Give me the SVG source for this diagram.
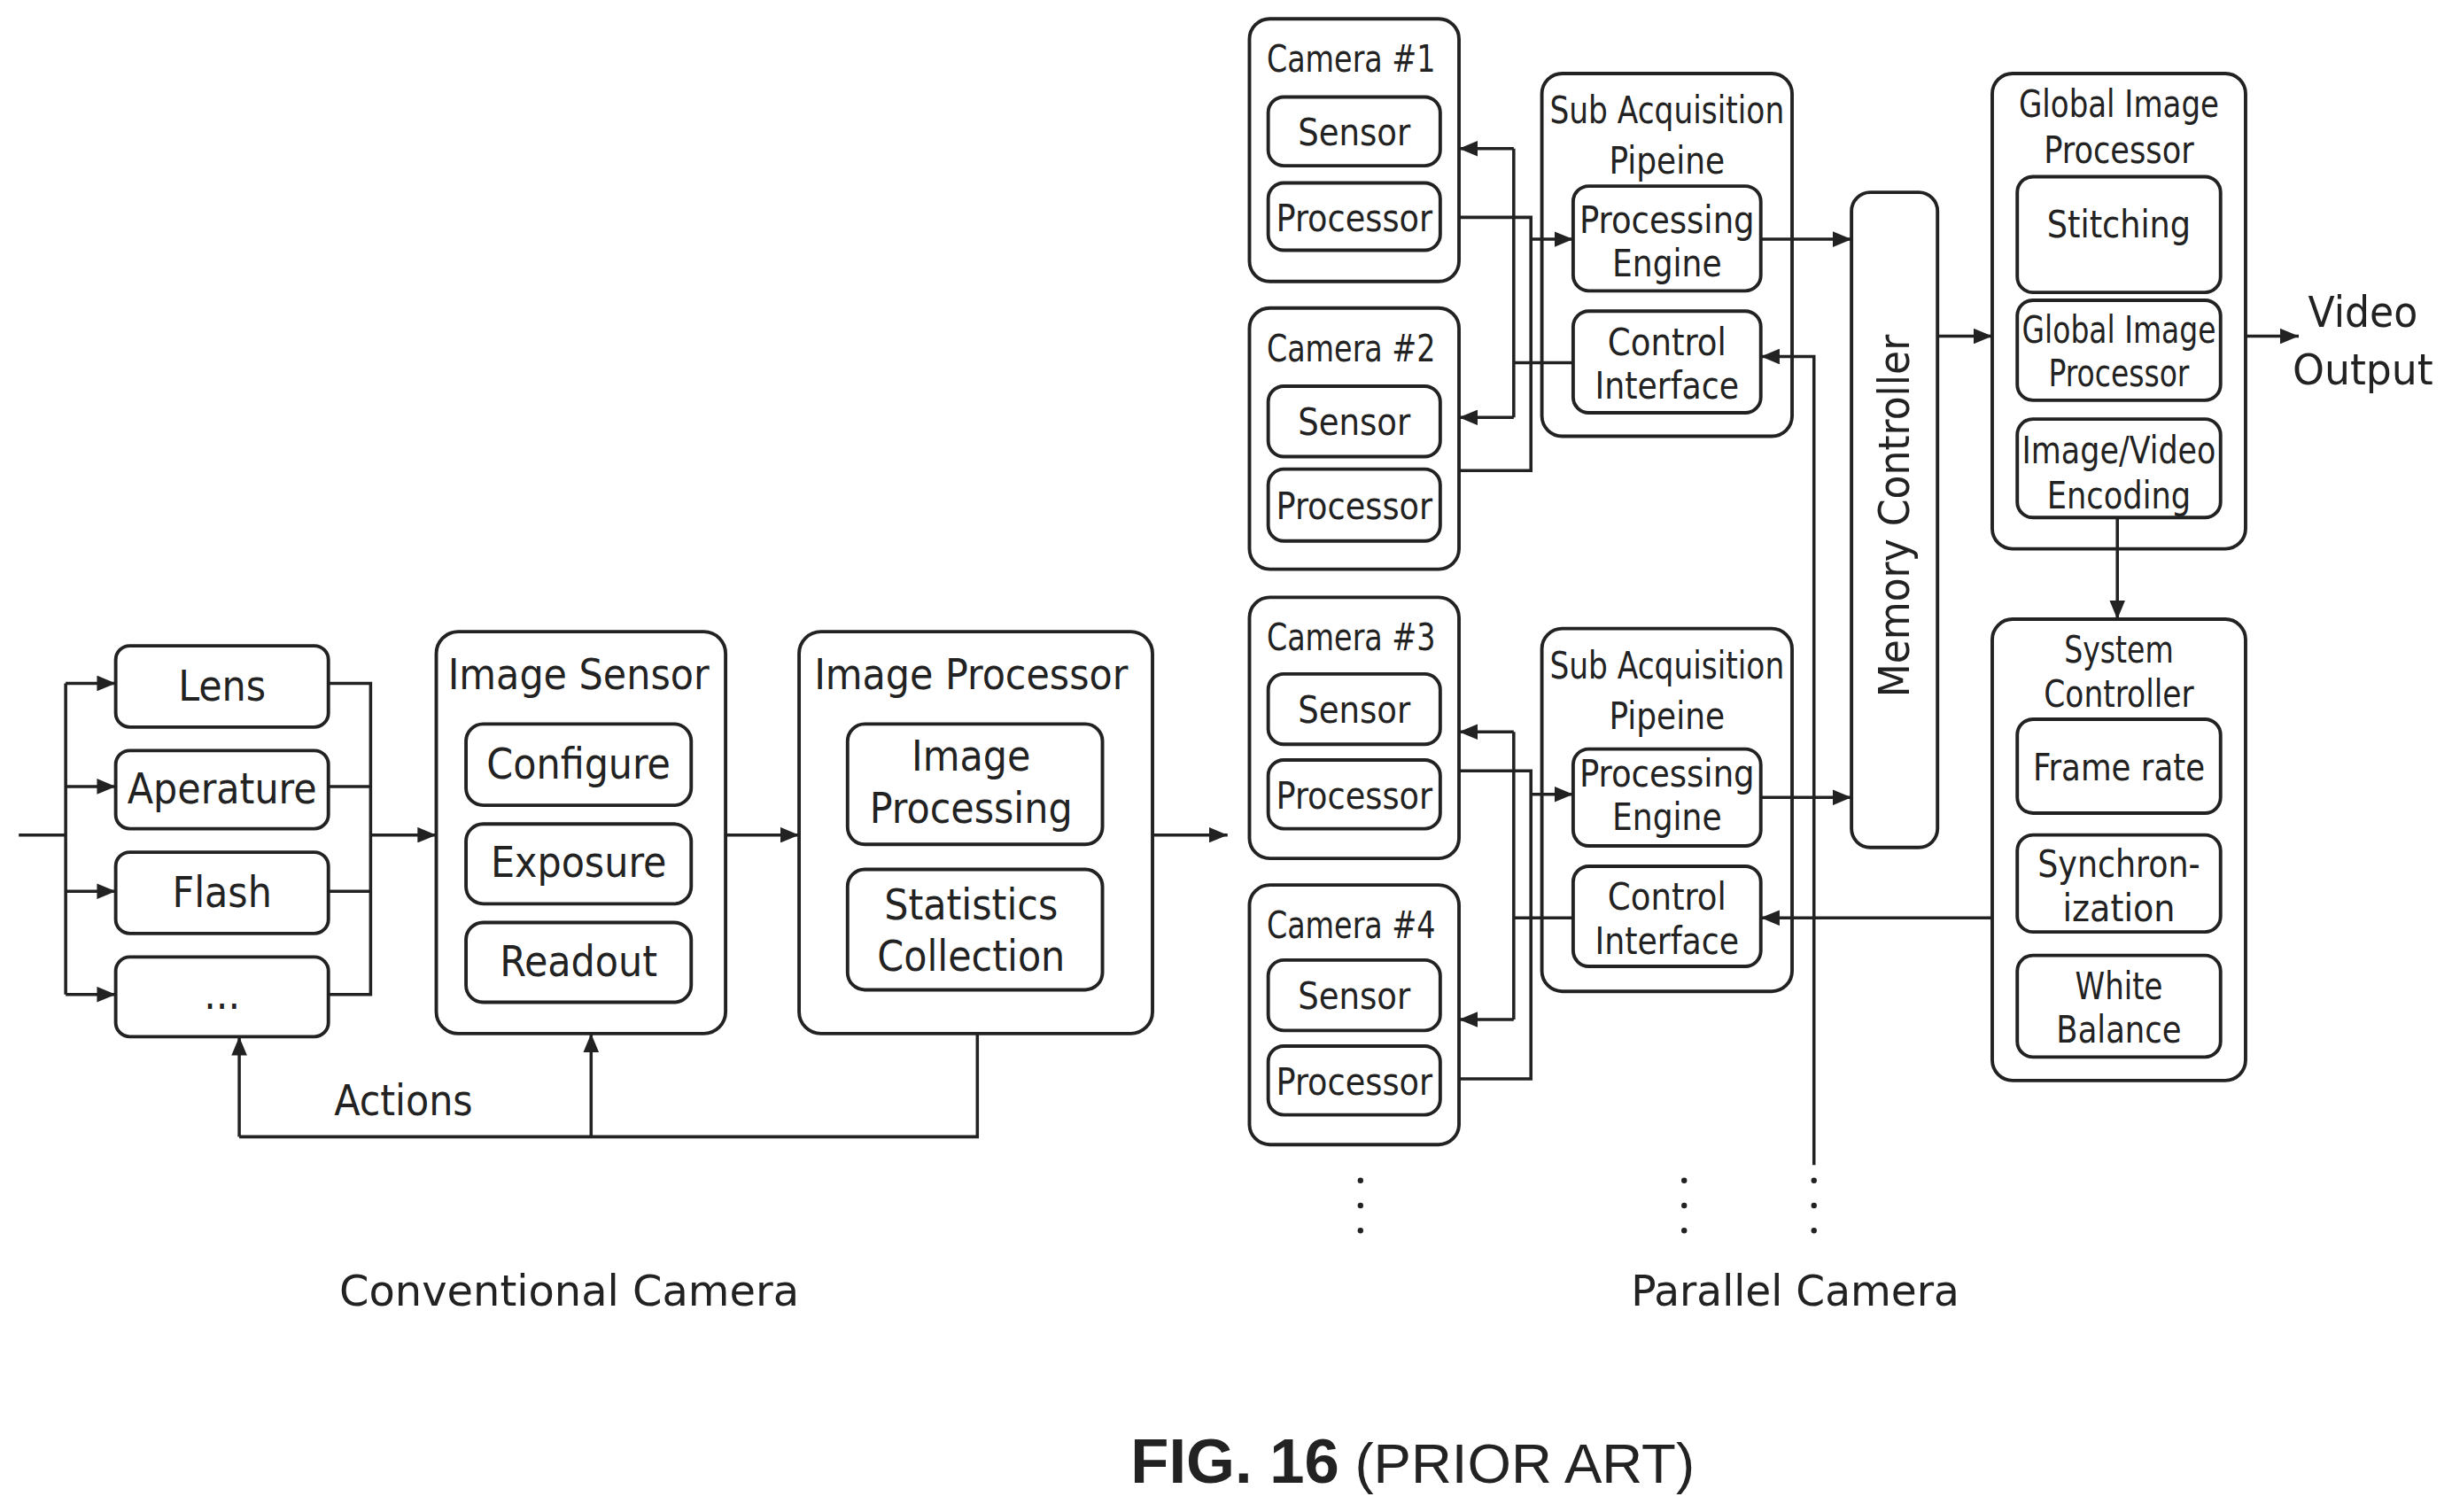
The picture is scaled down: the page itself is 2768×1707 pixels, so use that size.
<svg xmlns="http://www.w3.org/2000/svg" width="2768" height="1707" viewBox="0 0 2768 1707">
<style>
.b{fill:none;stroke:#222;stroke-width:2.2}
.l{fill:none;stroke:#222;stroke-width:2}
.t{font-family:"DejaVu Sans Condensed","DejaVu Sans",sans-serif;font-size:27px;fill:#222;text-anchor:middle}
.s{font-size:24px}
</style>
<defs>
<marker id="a" viewBox="0 0 12 10" refX="12" refY="5" markerWidth="12" markerHeight="10" markerUnits="userSpaceOnUse" orient="auto"><path d="M0,0L12,5L0,10z" fill="#222"/></marker>
</defs>
<rect width="2768" height="1707" fill="#fff"/>
<g transform="scale(1.7653)">
<g id="lens"><rect class="b" x="74" y="413" width="136" height="52" rx="9"/><text class="t" x="142" y="448">Lens</text></g>
<g id="aperature"><rect class="b" x="74" y="480" width="136" height="50" rx="9"/><text class="t" x="142" y="514">Aperature</text></g>
<g id="flash"><rect class="b" x="74" y="545" width="136" height="52" rx="9"/><text class="t" x="142" y="580">Flash</text></g>
<g id="more"><rect class="b" x="74" y="612" width="136" height="51" rx="9"/><text class="t" x="142" y="645">...</text></g>
<g id="imagesensor"><rect class="b" x="279" y="404" width="185" height="257" rx="14"/><text class="t" x="370" y="441">Image Sensor</text>
<rect class="b" x="298" y="463" width="144" height="52" rx="11"/><text class="t" x="370" y="498">Configure</text>
<rect class="b" x="298" y="527" width="144" height="51" rx="11"/><text class="t" x="370" y="561">Exposure</text>
<rect class="b" x="298" y="590" width="144" height="51" rx="11"/><text class="t" x="370" y="624">Readout</text></g>
<g id="imageprocessor"><rect class="b" x="511" y="404" width="226" height="257" rx="14"/><text class="t" x="621" y="441">Image Processor</text>
<rect class="b" x="542" y="463" width="163" height="77" rx="11"/><text class="t" x="621" y="493">Image</text><text class="t" x="621" y="526">Processing</text>
<rect class="b" x="542" y="556" width="163" height="77" rx="11"/><text class="t" x="621" y="588">Statistics</text><text class="t" x="621" y="621">Collection</text></g>
<g id="cam1"><rect class="b" x="799" y="12" width="134" height="168" rx="13"/><text class="t s" x="864" y="46" textLength="108" lengthAdjust="spacingAndGlyphs">Camera #1</text>
<rect class="b" x="811" y="62" width="110" height="44" rx="10"/><text class="t s" x="866" y="93" textLength="72" lengthAdjust="spacingAndGlyphs">Sensor</text>
<rect class="b" x="811" y="117" width="110" height="43" rx="10"/><text class="t s" x="866" y="148" textLength="100" lengthAdjust="spacingAndGlyphs">Processor</text></g>
<g id="cam2"><rect class="b" x="799" y="197" width="134" height="167" rx="13"/><text class="t s" x="864" y="231" textLength="108" lengthAdjust="spacingAndGlyphs">Camera #2</text>
<rect class="b" x="811" y="247" width="110" height="45" rx="10"/><text class="t s" x="866" y="278" textLength="72" lengthAdjust="spacingAndGlyphs">Sensor</text>
<rect class="b" x="811" y="300" width="110" height="46" rx="10"/><text class="t s" x="866" y="332" textLength="100" lengthAdjust="spacingAndGlyphs">Processor</text></g>
<g id="cam3"><rect class="b" x="799" y="382" width="134" height="167" rx="13"/><text class="t s" x="864" y="416" textLength="108" lengthAdjust="spacingAndGlyphs">Camera #3</text>
<rect class="b" x="811" y="431" width="110" height="45" rx="10"/><text class="t s" x="866" y="462" textLength="72" lengthAdjust="spacingAndGlyphs">Sensor</text>
<rect class="b" x="811" y="486" width="110" height="44" rx="10"/><text class="t s" x="866" y="517" textLength="100" lengthAdjust="spacingAndGlyphs">Processor</text></g>
<g id="cam4"><rect class="b" x="799" y="566" width="134" height="166" rx="13"/><text class="t s" x="864" y="600" textLength="108" lengthAdjust="spacingAndGlyphs">Camera #4</text>
<rect class="b" x="811" y="614" width="110" height="45" rx="10"/><text class="t s" x="866" y="645" textLength="72" lengthAdjust="spacingAndGlyphs">Sensor</text>
<rect class="b" x="811" y="669" width="110" height="44" rx="10"/><text class="t s" x="866" y="700" textLength="100" lengthAdjust="spacingAndGlyphs">Processor</text></g>
<g id="sap1"><rect class="b" x="986" y="47" width="160" height="232" rx="13"/><text class="t s" x="1066" y="79" textLength="150" lengthAdjust="spacingAndGlyphs">Sub Acquisition</text><text class="t s" x="1066" y="111" textLength="74" lengthAdjust="spacingAndGlyphs">Pipeine</text>
<rect class="b" x="1006" y="119" width="120" height="67" rx="10"/><text class="t s" x="1066" y="149" textLength="112" lengthAdjust="spacingAndGlyphs">Processing</text><text class="t s" x="1066" y="177" textLength="70" lengthAdjust="spacingAndGlyphs">Engine</text>
<rect class="b" x="1006" y="199" width="120" height="65" rx="10"/><text class="t s" x="1066" y="227" textLength="76" lengthAdjust="spacingAndGlyphs">Control</text><text class="t s" x="1066" y="255" textLength="92" lengthAdjust="spacingAndGlyphs">Interface</text></g>
<g id="sap2"><rect class="b" x="986" y="402" width="160" height="232" rx="13"/><text class="t s" x="1066" y="434" textLength="150" lengthAdjust="spacingAndGlyphs">Sub Acquisition</text><text class="t s" x="1066" y="466" textLength="74" lengthAdjust="spacingAndGlyphs">Pipeine</text>
<rect class="b" x="1006" y="479" width="120" height="62" rx="10"/><text class="t s" x="1066" y="503" textLength="112" lengthAdjust="spacingAndGlyphs">Processing</text><text class="t s" x="1066" y="531" textLength="70" lengthAdjust="spacingAndGlyphs">Engine</text>
<rect class="b" x="1006" y="554" width="120" height="64" rx="10"/><text class="t s" x="1066" y="582" textLength="76" lengthAdjust="spacingAndGlyphs">Control</text><text class="t s" x="1066" y="610" textLength="92" lengthAdjust="spacingAndGlyphs">Interface</text></g>
<g id="memory"><rect class="b" x="1184" y="123" width="55" height="419" rx="12"/><text class="t" transform="translate(1221,330) rotate(-90)" x="0" y="0" textLength="232" lengthAdjust="spacingAndGlyphs">Memory Controller</text></g>
<g id="gip"><rect class="b" x="1274" y="47" width="162" height="304" rx="13"/><text class="t s" x="1355" y="75" textLength="128" lengthAdjust="spacingAndGlyphs">Global Image</text><text class="t s" x="1355" y="104" textLength="96" lengthAdjust="spacingAndGlyphs">Processor</text>
<rect class="b" x="1290" y="113" width="130" height="74" rx="10"/><text class="t s" x="1355" y="152" textLength="92" lengthAdjust="spacingAndGlyphs">Stitching</text>
<rect class="b" x="1290" y="192" width="130" height="64" rx="10"/><text class="t s" x="1355" y="219" textLength="124" lengthAdjust="spacingAndGlyphs">Global Image</text><text class="t s" x="1355" y="247" textLength="90" lengthAdjust="spacingAndGlyphs">Processor</text>
<rect class="b" x="1290" y="268" width="130" height="63" rx="10"/><text class="t s" x="1355" y="296" textLength="124" lengthAdjust="spacingAndGlyphs">Image/Video</text><text class="t s" x="1355" y="325" textLength="92" lengthAdjust="spacingAndGlyphs">Encoding</text></g>
<g id="sysctrl"><rect class="b" x="1274" y="396" width="162" height="295" rx="13"/><text class="t s" x="1355" y="424" textLength="70" lengthAdjust="spacingAndGlyphs">System</text><text class="t s" x="1355" y="452" textLength="96" lengthAdjust="spacingAndGlyphs">Controller</text>
<rect class="b" x="1290" y="460" width="130" height="60" rx="10"/><text class="t s" x="1355" y="499" textLength="110" lengthAdjust="spacingAndGlyphs">Frame rate</text>
<rect class="b" x="1290" y="534" width="130" height="62" rx="10"/><text class="t s" x="1355" y="561" textLength="104" lengthAdjust="spacingAndGlyphs">Synchron-</text><text class="t s" x="1355" y="589" textLength="72" lengthAdjust="spacingAndGlyphs">ization</text>
<rect class="b" x="1290" y="611" width="130" height="65" rx="10"/><text class="t s" x="1355" y="639" textLength="56" lengthAdjust="spacingAndGlyphs">White</text><text class="t s" x="1355" y="667" textLength="80" lengthAdjust="spacingAndGlyphs">Balance</text></g>
<g id="connectors">
<path class="l" d="M12,534H42M42,437V636"/>
<path class="l" marker-end="url(#a)" d="M42,437H74"/><path class="l" marker-end="url(#a)" d="M42,503H74"/><path class="l" marker-end="url(#a)" d="M42,570H74"/><path class="l" marker-end="url(#a)" d="M42,636H74"/>
<path class="l" d="M210,437H237V636H210M210,503H237M210,570H237"/>
<path class="l" marker-end="url(#a)" d="M237,534H279"/>
<path class="l" marker-end="url(#a)" d="M464,534H511"/>
<path class="l" marker-end="url(#a)" d="M737,534H785"/>
<path class="l" d="M625,661V727H153"/>
<path class="l" marker-end="url(#a)" d="M153,727V663"/>
<path class="l" marker-end="url(#a)" d="M378,727V661"/>
<path class="l" d="M933,139H979V301H933"/>
<path class="l" marker-end="url(#a)" d="M979,153H1006"/>
<path class="l" d="M1006,232H968M968,95V267"/>
<path class="l" marker-end="url(#a)" d="M968,95H933"/><path class="l" marker-end="url(#a)" d="M968,267H933"/>
<path class="l" d="M933,493H979V690H933"/>
<path class="l" marker-end="url(#a)" d="M979,508H1006"/>
<path class="l" d="M1006,587H968M968,468V652"/>
<path class="l" marker-end="url(#a)" d="M968,468H933"/><path class="l" marker-end="url(#a)" d="M968,652H933"/>
<path class="l" marker-end="url(#a)" d="M1126,153H1184"/>
<path class="l" marker-end="url(#a)" d="M1126,510H1184"/>
<path class="l" marker-end="url(#a)" d="M1160,745V228H1126"/>
<path class="l" marker-end="url(#a)" d="M1274,587H1126"/>
<path class="l" marker-end="url(#a)" d="M1239,215H1274"/>
<path class="l" marker-end="url(#a)" d="M1436,215H1470"/>
<path class="l" marker-end="url(#a)" d="M1354,331V396"/>
</g>
<g id="dots" fill="#222"><circle cx="870" cy="755" r="1.8"/><circle cx="870" cy="771" r="1.8"/><circle cx="870" cy="787" r="1.8"/>
<circle cx="1077" cy="755" r="1.8"/><circle cx="1077" cy="771" r="1.8"/><circle cx="1077" cy="787" r="1.8"/>
<circle cx="1160" cy="755" r="1.8"/><circle cx="1160" cy="771" r="1.8"/><circle cx="1160" cy="787" r="1.8"/></g>
<text class="t" x="1511" y="209" textLength="70" lengthAdjust="spacingAndGlyphs">Video</text>
<text class="t" x="1511" y="246" textLength="90" lengthAdjust="spacingAndGlyphs">Output</text>
<text class="t" x="258" y="713">Actions</text>
<text class="t" x="364" y="835" textLength="294" lengthAdjust="spacingAndGlyphs">Conventional Camera</text>
<text class="t" x="1148" y="835" textLength="210" lengthAdjust="spacingAndGlyphs">Parallel Camera</text>
<text x="723" y="948" font-family="Liberation Sans,Arial,sans-serif" font-size="40" fill="#222"><tspan font-weight="bold">FIG. 16</tspan><tspan font-size="36"> (PRIOR ART)</tspan></text>
</g>
</svg>
